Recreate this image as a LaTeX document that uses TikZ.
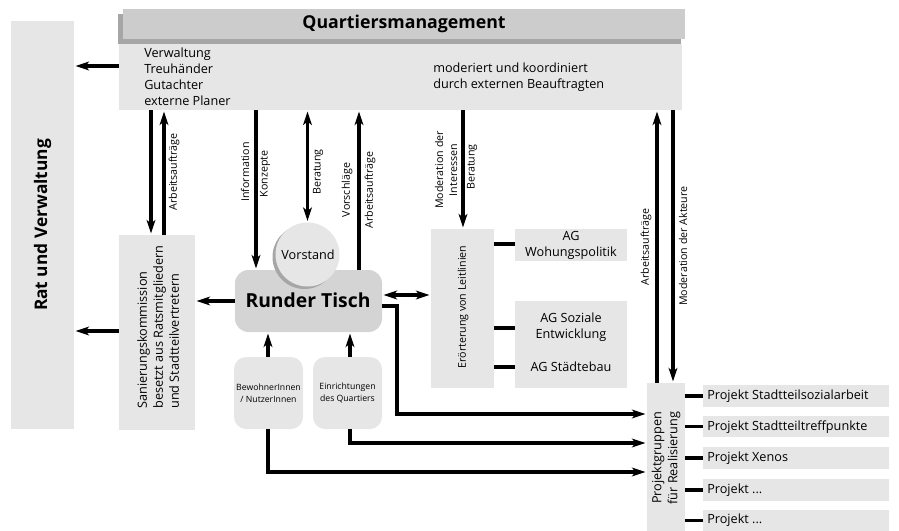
\documentclass[tikz,border=0pt]{standalone}
\usepackage{fontspec}
\setmainfont{Open Sans}
\usetikzlibrary{arrows.meta,fit}
\definecolor{boxgray}{HTML}{E6E6E6}
\definecolor{hdrgray}{HTML}{CCCCCC}
\definecolor{shadowgray}{HTML}{A6A6A6}
\definecolor{rtgray}{HTML}{D4D4D4}
\tikzset{
  box/.style={fill=boxgray, inner sep=0pt, draw=none},
  rbox/.style={fill=boxgray, inner sep=0pt, draw=none, rounded corners=9pt},
  tip/.tip={Stealth[length=10pt,width=6.5pt,inset=2.5pt]},
  arr/.style={line width=2.3pt, -tip, shorten >=1pt},
  darr/.style={line width=2.3pt, tip-tip, shorten >=1pt, shorten <=1pt},
  ln/.style={line width=2.3pt},
  lbl/.style={rotate=90, font=\fontsize{8}{10}\selectfont, inner sep=0pt},
  bodytxt/.style={font=\fontsize{9.5}{12}\selectfont, inner sep=0pt}
}
\begin{document}
\begin{tikzpicture}[x=0.75pt,y=-0.75pt]
\useasboundingbox (0,0) rectangle (899,531);
% Rat und Verwaltung
\node[box, fit={(11,21)(74,429)}] (rat) {};
\node[rotate=90, font=\bfseries\fontsize{13}{15}\selectfont] (ratt) at (rat.center) {Rat und Verwaltung};
% Quartiersmanagement
\fill[shadowgray] (118,14) rectangle (681,44);
\node[fill=hdrgray, inner sep=0pt, fit={(123,9)(685,39)}] (hdr) {};
\node[font=\bfseries\fontsize{13.3}{15}\selectfont] (hdrt) at (404,24) {Quartiersmanagement};
\node[box, fit={(119,44)(682,110)}] (body) {};
\node[bodytxt, anchor=west, align=left] (bodyl) at (144,76.5) {Verwaltung\\Treuhänder\\Gutachter\\externe Planer};
\node[bodytxt, anchor=west, align=left] (bodyr) at (433,77) {moderiert und koordiniert\\durch externen Beauftragten};
% Sanierungskommission
\node[box, fit={(119,235)(195,430)}] (san) {};
\node[bodytxt, rotate=90, align=left] (sant) at (158,327) {Sanierungskommission\\besetzt aus Ratsmitgliedern\\und Stadtteilvertretern};
% Runder Tisch
\node[fill=rtgray, inner sep=0pt, rounded corners=10pt, fit={(235,270)(382,332)}] (rt) {};
\node[font=\bfseries\fontsize{14.5}{18}\selectfont] (rtt) at (308,300) {Runder Tisch};
% Vorstand
\fill[shadowgray] (304.5,257) circle (32);
\node[circle, fill=boxgray, minimum size=48pt, inner sep=0pt] (vor) at (307.5,254.5) {};
\node[bodytxt] (vort) at (308,255) {Vorstand};
% Bewohner / Einrichtungen
\node[rbox, fit={(234,357)(303,429)}] (bew) {};
\node[font=\fontsize{6.5}{9}\selectfont, align=center, inner sep=0pt] at (bew.center) {BewohnerInnen\\/ NutzerInnen};
\node[rbox, fit={(313,357)(382,429)}] (ein) {};
\node[font=\fontsize{6.5}{9}\selectfont, align=center, inner sep=0pt] at (ein.center) {Einrichtungen\\des Quartiers};
% Eroerterung
\node[box, fit={(431,229)(494,388)}] (ero) {};
\node[lbl] (erot) at (463,307) {Erörterung von Leitlinien};
\node[box, fit={(515,229)(627,261)}] (agw) {};
\node[bodytxt, align=center] at (agw.center) {AG\\Wohungspolitik};
\node[box, fit={(515,301)(627,388)}] (ags) {};
\node[bodytxt, align=center] at (571,327) {AG Soziale\\Entwicklung};
\node[bodytxt] at (571,367) {AG Städtebau};
% Projektgruppen
\node[box, fit={(647,383)(685,531)}] (pg) {};
\node[bodytxt, rotate=90, align=center] (pgt) at (666,458) {Projektgruppen\\für Realisierung};
\node[box, fit={(703,385)(889,407)}] (p1) {};
\node[bodytxt, anchor=west] at (707,396) {Projekt Stadtteilsozialarbeit};
\node[box, fit={(703,416)(889,437)}] (p2) {};
\node[bodytxt, anchor=west] at (707,427) {Projekt Stadtteiltreffpunkte};
\node[box, fit={(703,447)(889,469)}] (p3) {};
\node[bodytxt, anchor=west] at (707,458) {Projekt Xenos};
\node[box, fit={(703,479)(889,501)}] (p4) {};
\node[bodytxt, anchor=west] at (707,490) {Projekt ...};
\node[box, fit={(703,510)(889,531)}] (p5) {};
\node[bodytxt, anchor=west] at (707,520) {Projekt ...};
% Connectors
\draw[arr] (body.west |- 0,66) -- (rat.east |- 0,66);
\draw[arr] (san.west |- 0,331) -- (rat.east |- 0,331);
\draw[arr] (151,0 |- body.south) -- (151,0 |- san.north);
\draw[arr] (164,0 |- san.north) -- (164,0 |- body.south);
\node[lbl] at (174,172) {Arbeitsaufträge};
\draw[arr] (256,0 |- body.south) -- (256,0 |- rt.north);
\node[lbl] at (245,172) {Information};
\node[lbl] at (265,174) {Konzepte};
\draw[darr] (vor.north |- body.south) -- (vor.north);
\node[lbl] at (318,172) {Beratung};
\draw[arr] (359,0 |- rt.north) -- (359,0 |- body.south);
\node[lbl] at (347,190) {Vorschläge};
\node[lbl] at (370,190) {Arbeitsaufträge};
\draw[arr] (rt.west |- 0,301) -- (san.east |- 0,301);
\draw[arr] (463,0 |- body.south) -- (463,0 |- ero.north);
\node[lbl, align=center, font=\fontsize{8}{10.5}\selectfont] at (446,170) {Moderation der\\Interessen};
\node[lbl] at (472,167) {Beratung};
\draw[darr] (rt.east |- 0,295) -- (ero.west |- 0,295);
\draw[ln] (ero.east |- 0,244) -- (agw.west |- 0,244);
\draw[ln] (ero.east |- 0,328) -- (ags.west |- 0,328);
\draw[ln] (ero.east |- 0,367) -- (ags.west |- 0,367);
\draw[arr] (657,0 |- pg.north) -- (657,0 |- body.south);
\node[lbl] at (646,247) {Arbeitsaufträge};
\draw[arr] (673,0 |- body.south) -- (673,0 |- pg.north);
\node[lbl] at (683,246) {Moderation der Akteure};
\draw[ln] (pg.east |- p1.west) -- (p1.west);
\draw[ln] (pg.east |- p2.west) -- (p2.west);
\draw[ln] (pg.east |- p3.west) -- (p3.west);
\draw[ln] (pg.east |- p4.west) -- (p4.west);
\draw[ln] (pg.east |- p5.west) -- (p5.west);
\draw[arr] (268,0 |- bew.north) -- (268,0 |- rt.south);
\draw[arr] (350,0 |- ein.north) -- (350,0 |- rt.south);
\draw[arr] (rt.east |- 0,306) -| (397,414) -- (pg.west |- 0,414);
\draw[arr] (350,0 |- ein.south) |- (pg.west |- 0,443);
\draw[arr] (268,0 |- bew.south) |- (pg.west |- 0,472);
\end{tikzpicture}
\end{document}
